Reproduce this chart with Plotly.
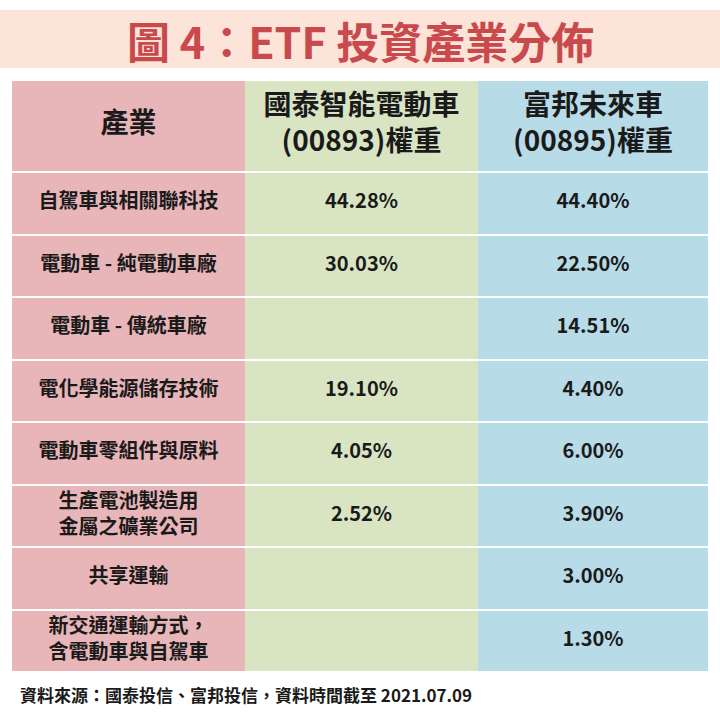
import numpy as np
import plotly.graph_objects as go

industries = [
    "自駕車與相關聯科技",
    "電動車 - 純電動車廠",
    "電動車 - 傳統車廠",
    "電化學能源儲存技術",
    "電動車零組件與原料",
    "生產電池製造用<br>金屬之礦業公司",
    "共享運輸",
    "新交通運輸方式，<br>含電動車與自駕車",
]
weights_00893 = ["44.28%", "30.03%", "", "19.10%", "4.05%", "2.52%", "", ""]
weights_00895 = ["44.40%", "22.50%", "14.51%", "4.40%", "6.00%", "3.90%", "3.00%", "1.30%"]
headers = ["產業", "國泰智能電動車<br>(00893)權重", "富邦未來車<br>(00895)權重"]

FONT = "Noto Sans CJK TC"
PINK, GREEN, BLUE = "#e8b5b9", "#d9e4c3", "#b8dbe8"

# table geometry in pixels (axes are in pixel units)
col_edges = np.array([12, 245, 478, 708])
header_h, row_h, table_top = 92, 62.5, 80
row_edges = table_top + np.concatenate([[0], header_h + row_h * np.arange(len(industries) + 1)])

columns = [industries, weights_00893, weights_00895]
n_rows = len(industries) + 1
z = [[0, 1, 2] for _ in range(n_rows)]

fig = go.Figure()
fig.add_trace(go.Heatmap(
    x=col_edges, y=row_edges, z=z,
    colorscale=[[0, PINK], [0.5, GREEN], [1, BLUE]],
    showscale=False, ygap=2, xgap=0, hoverinfo="skip",
))

xc = (col_edges[:-1] + col_edges[1:]) / 2
yc = (row_edges[:-1] + row_edges[1:]) / 2
# header
fig.add_trace(go.Scatter(
    x=xc, y=[yc[0]] * 3, text=headers, mode="text",
    textfont=dict(family=FONT, size=28, color="#1a1a1a", weight="bold"),
    hoverinfo="skip",
))
# body
for j, col in enumerate(columns):
    fig.add_trace(go.Scatter(
        x=[xc[j]] * len(col), y=yc[1:], text=col, mode="text",
        textfont=dict(family=FONT, size=20, color="#1a1a1a", weight="bold"),
        hoverinfo="skip",
    ))

# title band
fig.add_shape(type="rect", x0=0, x1=720, y0=10, y1=68,
              fillcolor="#fde4d9", line_width=0, layer="below")
fig.add_annotation(text="<b>圖 4：ETF 投資產業分佈</b>", x=360, y=40,
                   showarrow=False, yanchor="middle",
                   font=dict(family=FONT, size=43, color="#c94a4c"))
fig.add_annotation(text="<b>資料來源：國泰投信、富邦投信，資料時間截至 2021.07.09</b>",
                   x=18, y=694, xanchor="left", yanchor="middle", showarrow=False,
                   font=dict(family=FONT, size=17, color="#1a1a1a"))

fig.update_xaxes(range=[0, 720], visible=False, fixedrange=True)
fig.update_yaxes(range=[720, 0], visible=False, fixedrange=True)
fig.update_layout(width=720, height=720, margin=dict(l=0, r=0, t=0, b=0),
                  paper_bgcolor="white", plot_bgcolor="white", showlegend=False)
fig.write_html("out.html", config={"displayModeBar": False},
               post_script="document.body.style.margin='0';")
